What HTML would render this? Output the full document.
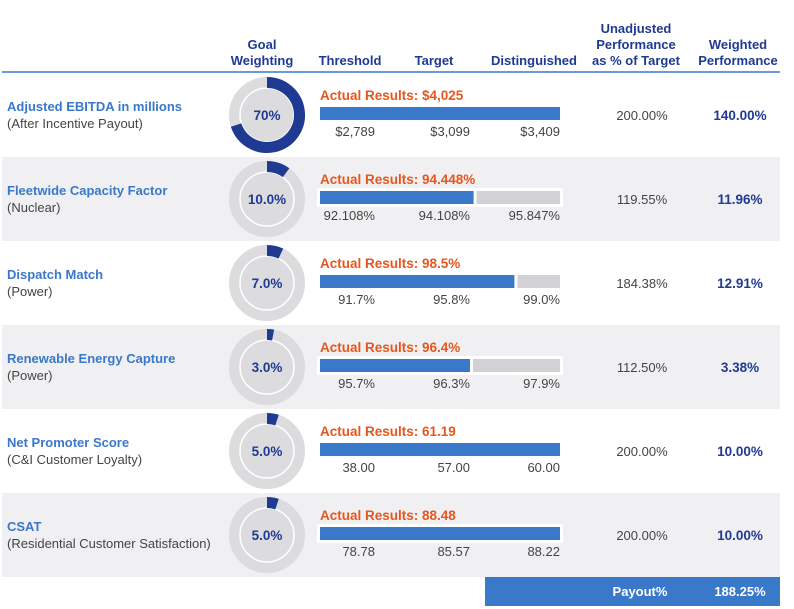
<!DOCTYPE html>
<html><head><meta charset="utf-8"><style>
body{margin:0;background:#fff;}
svg{display:block;font-family:"Liberation Sans",Arial,sans-serif;}
</style></head><body>
<svg id="c" width="794" height="609" viewBox="0 0 794 609">
<g font-weight="bold" font-size="13" fill="#1f3a93" text-anchor="middle">
<text x="262" y="49">Goal</text>
<text x="262" y="65">Weighting</text>
<text x="350" y="65">Threshold</text>
<text x="434" y="65">Target</text>
<text x="534" y="65">Distinguished</text>
<text x="636" y="33">Unadjusted</text>
<text x="636" y="49">Performance</text>
<text x="636" y="65">as % of Target</text>
<text x="738" y="49">Weighted</text>
<text x="738" y="65">Performance</text>
</g>
<line x1="2" y1="72" x2="780" y2="72" stroke="#3a78c9" stroke-width="1.5"/>
<g id="rows"></g>
<rect x="485" y="577" width="295" height="29" fill="#3a78c9"/>
<text x="640" y="596" fill="#fff" font-weight="bold" font-size="13" text-anchor="middle">Payout%</text>
<text x="740" y="596" fill="#fff" font-weight="bold" font-size="13" text-anchor="middle">188.25%</text>
</svg>
<script>
const names=["Adjusted EBITDA in millions","Fleetwide Capacity Factor","Dispatch Match","Renewable Energy Capture","Net Promoter Score","CSAT"];
const subs=["(After Incentive Payout)","(Nuclear)","(Power)","(Power)","(C&I Customer Loyalty)","(Residential Customer Satisfaction)"];
const weights=[70,10,7,3,5,5];
const weightLabels=["70%","10.0%","7.0%","3.0%","5.0%","5.0%"];
const actuals=["$4,025","94.448%","98.5%","96.4%","61.19","88.48"];
const thresholds=["$2,789","92.108%","91.7%","95.7%","38.00","78.78"];
const targets=["$3,099","94.108%","95.8%","96.3%","57.00","85.57"];
const dists=["$3,409","95.847%","99.0%","97.9%","60.00","88.22"];
const fills=[1,0.64,0.81,0.625,1,1];
const unadj=["200.00%","119.55%","184.38%","112.50%","200.00%","200.00%"];
const weighted=["140.00%","11.96%","12.91%","3.38%","10.00%","10.00%"];
const NS="http://www.w3.org/2000/svg";
const g=document.getElementById('rows');
function mk(t,a,p,txt){const e=document.createElementNS(NS,t);for(const k in a)e.setAttribute(k,a[k]);if(txt!=null)e.textContent=txt;(p||g).appendChild(e);return e;}
const rowTop=73,rowH=84;
const barX=320,barW=240;
names.forEach((n,i)=>{
 const y=rowTop+i*rowH, cy=y+rowH/2;
 const grp=mk('g',{});
 
 
 if(i%2==1){const bg=mk('rect',{x:2,y:y,width:778,height:rowH,fill:'#f0f0f2'},grp);
  }
 const t1=mk('text',{x:7,y:cy-4,fill:'#3a78c9','font-weight':'bold','font-size':'13'},grp,n);
 
 const t2=mk('text',{x:7,y:cy+13,fill:'#444','font-size':'13'},grp,subs[i]);
 
 const cx=267,R=38,r=27;
 const ring=mk('circle',{cx:cx,cy:cy,r:(R+r)/2,fill:'none',stroke:'#dcdcde','stroke-width':R-r},grp);
 
 const inner=mk('circle',{cx:cx,cy:cy,r:r,fill:'#dcdcde',stroke:'#fff','stroke-width':1.5},grp);
 
 const f=weights[i]/100, rm=(R+r)/2, a=f*2*Math.PI;
 const x1=cx,y1=cy-rm,x2=cx+rm*Math.sin(a),y2=cy-rm*Math.cos(a);
 const arc=mk('path',{d:`M${x1} ${y1} A${rm} ${rm} 0 ${f>0.5?1:0} 1 ${x2} ${y2}`,fill:'none',stroke:'#1f3a93','stroke-width':R-r},grp);
 
 const wl=mk('text',{x:cx,y:cy+5,fill:'#1f3a93','font-weight':'bold','font-size':'13.5','text-anchor':'middle'},grp,weightLabels[i]);
 
 const by=cy-8;
 const al=mk('text',{x:barX,y:cy-15,fill:'#e8561e','font-weight':'bold','font-size':'13.5'},grp,'Actual Results: '+actuals[i]);
 
 if(i%2==1){const wb=mk('rect',{x:barX-3,y:by-3,width:barW+6,height:19,fill:'#fff'},grp);
  }
 if(fills[i]<1){const tr=mk('rect',{x:barX+barW*fills[i]+3,y:by,width:barW-barW*fills[i]-3,height:13,fill:'#d2d2d4'},grp);
  }
 const b=mk('rect',{x:barX,y:by,width:barW*fills[i],height:13,fill:'#3a78c9'},grp);
 
 const ly=cy+21;
 const l1=mk('text',{x:375,y:ly,fill:'#444','font-size':'13','text-anchor':'end'},grp,thresholds[i]);
 
 const l2=mk('text',{x:470,y:ly,fill:'#444','font-size':'13','text-anchor':'end'},grp,targets[i]);
 
 const l3=mk('text',{x:560,y:ly,fill:'#444','font-size':'13','text-anchor':'end'},grp,dists[i]);
 
 const u=mk('text',{x:642,y:cy+5,fill:'#444','font-size':'13','text-anchor':'middle'},grp,unadj[i]);
 
 const w=mk('text',{x:740,y:cy+5,fill:'#1f3a93','font-weight':'bold','font-size':'13.5','text-anchor':'middle'},grp,weighted[i]);
 
});
</script>
</body></html>
